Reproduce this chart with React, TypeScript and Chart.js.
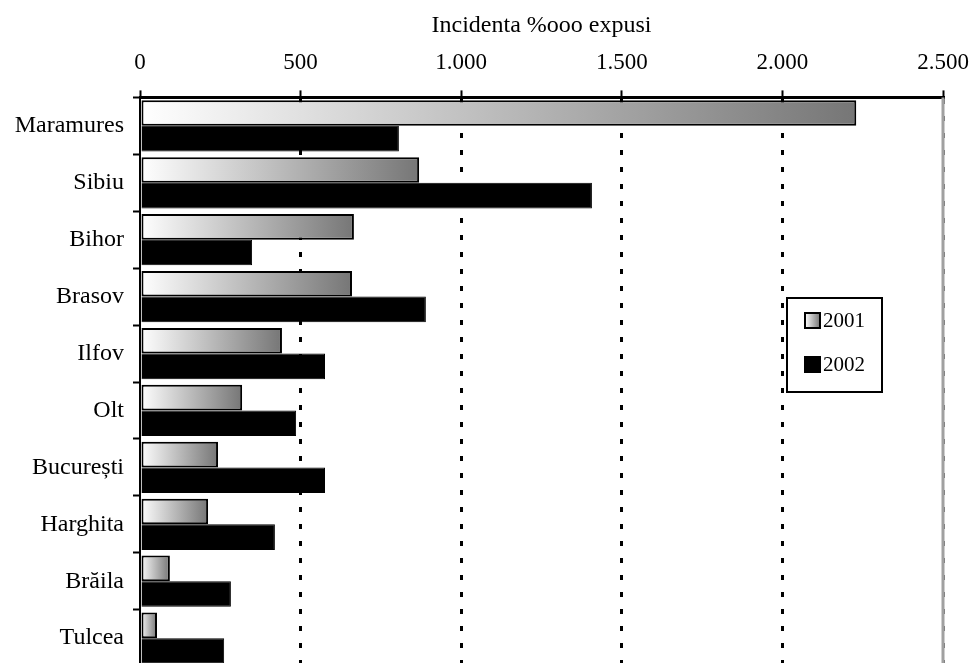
import React, { useEffect, useRef } from "react";
import { Chart, registerables } from "chart.js";

Chart.register(...registerables);

const categories = ["Maramures", "Sibiu", "Bihor", "Brasov", "Ilfov", "Olt", "București", "Harghita", "Brăila", "Tulcea"];
const series2001 = [2230, 869, 666, 660, 442, 318, 243, 212, 93, 53];
const series2002 = [806, 1407, 349, 890, 576, 486, 576, 420, 283, 262];
const xTickLabels = ["0", "500", "1.000", "1.500", "2.000", "2.500"];
const seriesNames = ["2001", "2002"];
const axisTitle = "Incidenta %ooo expusi";

const FONT = "'Liberation Serif', 'Times New Roman', serif";

function makeGradient(ctx: CanvasRenderingContext2D, x0: number, x1: number) {
  const g = ctx.createLinearGradient(x0, 0, x1, 0);
  g.addColorStop(0, "#ffffff");
  g.addColorStop(1, "#767676");
  return g;
}

const extrasPlugin = {
  id: "extras",
  beforeDatasetsDraw(chart: any) {
    const x = chart.scales.x;
    const ctx = chart.ctx;
    const px = x.getPixelForValue(2500);
    ctx.save();
    ctx.strokeStyle = "#a0a0a0";
    ctx.lineWidth = 3;
    ctx.beginPath();
    ctx.moveTo(px, chart.chartArea.top);
    ctx.lineTo(px, chart.chartArea.bottom);
    ctx.stroke();
    ctx.restore();
  },
  afterDraw(chart: any) {
    const ctx = chart.ctx;
    ctx.save();
    const bx = 787, by = 298, bw = 95, bh = 94;
    ctx.fillStyle = "#ffffff";
    ctx.fillRect(bx, by, bw, bh);
    ctx.strokeStyle = "#000";
    ctx.lineWidth = 2;
    ctx.strokeRect(bx, by, bw, bh);
    const items = [
      { y: 313, fill: "grad" },
      { y: 357, fill: "#000" },
    ];
    ctx.font = `21px ${FONT}`;
    ctx.textBaseline = "middle";
    items.forEach((it, i) => {
      const sx = 805, sy = it.y, s = 15;
      ctx.fillStyle = it.fill === "grad" ? makeGradient(ctx, sx, sx + s) : it.fill;
      ctx.fillRect(sx, sy, s, s);
      ctx.lineWidth = 2;
      ctx.strokeStyle = "#000";
      ctx.strokeRect(sx, sy, s, s);
      ctx.fillStyle = "#000";
      ctx.fillText(seriesNames[i], sx + 18, sy + s / 2 + 1);
    });
    ctx.restore();
  },
};

export default function App() {
  const ref = useRef<HTMLCanvasElement | null>(null);
  useEffect(() => {
    if (!ref.current) return;
    const chart = new Chart(ref.current, {
      type: "bar",
      data: {
        labels: categories,
        datasets: [
          {
            label: seriesNames[0],
            data: series2001,
            backgroundColor: (c: any) => {
              const xs = c.chart.scales?.x;
              if (!xs || c.type !== "data") return "#bbbbbb";
              const x0 = xs.getPixelForValue(0);
              const x1 = xs.getPixelForValue(c.raw as number);
              if (!isFinite(x0) || !isFinite(x1) || x1 <= x0) return "#bbbbbb";
              return makeGradient(c.chart.ctx, x0, x1);
            },
            borderColor: "#000",
            borderWidth: 2,
            borderSkipped: false,
            categoryPercentage: 0.9,
            barPercentage: 1,
          },
          {
            label: seriesNames[1],
            data: series2002,
            backgroundColor: "#000",
            borderColor: "#000",
            borderWidth: 1,
            categoryPercentage: 0.9,
            barPercentage: 1,
          },
        ],
      },
      options: {
        indexAxis: "y",
        responsive: false,
        animation: false,
        layout: { padding: { top: 11, right: 28, bottom: 22, left: 0 } },
        plugins: { legend: { display: false }, tooltip: { enabled: false }, title: { display: false } },
        scales: {
          x: {
            position: "top",
            min: 0,
            max: 2500,
            afterFit: (s: any) => {
              s.paddingRight = 0;
              s.paddingLeft = 0;
            },
            ticks: {
              stepSize: 500,
              color: "#000",
              font: { family: FONT, size: 23 },
              padding: 14,
              maxRotation: 0,
              callback: (_v: any, i: number) => xTickLabels[i],
            },
            title: {
              display: true,
              text: axisTitle,
              color: "#000",
              font: { family: FONT, size: 24 },
              padding: { top: 0, bottom: -5 },
            },
            grid: {
              color: (c: any) => (c.tick && c.tick.value === 0 ? "rgba(0,0,0,0)" : c.tick && c.tick.value === 2500 ? "#666" : "#000"),
              lineWidth: 3,
              tickColor: "#000",
              tickWidth: 2,
              tickLength: 7,
            },
            border: { display: true, color: "#000", width: 3, dash: [5, 12] },
          },
          y: {
            position: "left",
            afterFit: (s: any) => {
              s.width = 140;
            },
            ticks: {
              color: "#000",
              font: { family: FONT, size: 24 },
              padding: 9,
            },
            grid: {
              drawOnChartArea: false,
              tickColor: "#000",
              tickWidth: 2,
              tickLength: 7,
            },
            border: { display: true, color: "#000", width: 2 },
          },
        },
      },
      plugins: [extrasPlugin],
    } as any);
    return () => chart.destroy();
  }, []);
  return (
    <div style={{ position: "fixed", left: 0, top: 0, width: 971, height: 663, overflow: "hidden", background: "#fff" }}>
      <canvas ref={ref} width={971} height={690} style={{ display: "block" }} />
    </div>
  );
}
